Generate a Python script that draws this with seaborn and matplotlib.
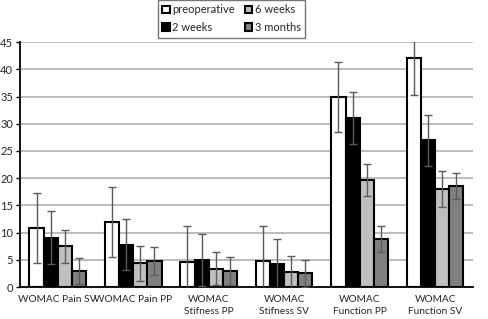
import matplotlib
matplotlib.use("Agg")
import matplotlib.pyplot as plt
import seaborn as sns
import pandas as pd
import numpy as np
from matplotlib.patches import Patch

# values
groups = ["WOMAC Pain SV", "WOMAC Pain PP", "WOMAC\nStifness PP",
          "WOMAC\nStifness SV", "WOMAC\nFunction PP", "WOMAC\nFunction SV"]
times = ["preoperative", "2 weeks", "6 weeks", "3 months"]
preop = [10.8, 12.0, 4.7, 4.8, 34.9, 42.0]
preop_sd = [6.4, 6.4, 6.5, 6.5, 6.4, 6.8]
wk2 = [9.1, 7.8, 5.0, 4.2, 31.0, 27.0]
wk2_sd = [4.9, 4.7, 4.8, 4.7, 4.8, 4.7]
wk6 = [7.5, 4.4, 3.4, 2.8, 19.7, 18.1]
wk6_sd = [3.0, 3.2, 3.0, 3.0, 3.0, 3.3]
mo3 = [3.0, 4.8, 3.0, 2.5, 8.9, 18.6]
mo3_sd = [2.4, 2.5, 2.6, 2.5, 2.4, 2.4]

colors = ["white", "black", "#c0c0c0", "#808080"]

means = [preop, wk2, wk6, mo3]
sds = [preop_sd, wk2_sd, wk6_sd, mo3_sd]
df = pd.DataFrame({
    "group": np.repeat([groups], 4, axis=0).ravel(),
    "time": np.repeat(times, len(groups)),
    "value": np.concatenate(means),
    "sd": np.concatenate(sds),
})

sns.set_style("white")
plt.rcParams["font.family"] = ["Lato", "DejaVu Sans"]

fig = plt.figure(figsize=(4.88, 3.19), dpi=100)
ax = fig.add_axes([0.041, 0.100, 0.928, 0.768])

sns.barplot(data=df, x="group", y="value", hue="time", order=groups,
            hue_order=times, palette=colors, errorbar=None, width=0.75,
            edgecolor="black", linewidth=1.5, legend=False, ax=ax, zorder=2)

# error bars from the bar positions
for bars, t in zip(ax.containers, times):
    sub = df[df.time == t].set_index("group").loc[groups]
    xs = [b.get_x() + b.get_width() / 2 for b in bars]
    ax.errorbar(xs, sub["value"], yerr=sub["sd"], fmt="none",
                ecolor="#5a5a5a", elinewidth=1, capsize=3, capthick=1, zorder=3)

ax.set_ylim(0, 45)
ax.set_xlim(-0.5, len(groups) - 0.5)
ax.set_yticks(range(0, 46, 5))
ax.yaxis.grid(True, color="#b0b0b0", linewidth=1.2, zorder=0)
ax.set_axisbelow(True)
ax.set_xlabel("")
ax.set_ylabel("")
ax.set_xticks(range(len(groups)))
ax.set_xticklabels(groups, fontsize=7.3, va="top", linespacing=1.3)
ax.set_xticks(np.arange(-0.5, len(groups)), minor=True)
ax.tick_params(axis="x", which="major", length=0, pad=6)
ax.tick_params(axis="x", which="minor", length=3, width=1, direction="out", color="black")
ax.tick_params(axis="y", length=3, width=1, direction="out", color="black",
               labelsize=8, pad=2, left=True)
for s in ["top", "right"]:
    ax.spines[s].set_visible(False)
for s in ["left", "bottom"]:
    ax.spines[s].set_color("black")
    ax.spines[s].set_linewidth(1.3)

handles = [Patch(facecolor=c, edgecolor="black", linewidth=1.5) for c in colors]
fig.legend(handles, times, ncol=2, loc="upper left", bbox_to_anchor=(0.323, 1.0),
           fontsize=8, frameon=True, fancybox=False, edgecolor="#555555",
           handlelength=0.7, handleheight=0.7, handletextpad=0.2,
           columnspacing=0.9, labelspacing=0.6, borderpad=0.4, borderaxespad=0)

fig.savefig("out.png", dpi=100)
